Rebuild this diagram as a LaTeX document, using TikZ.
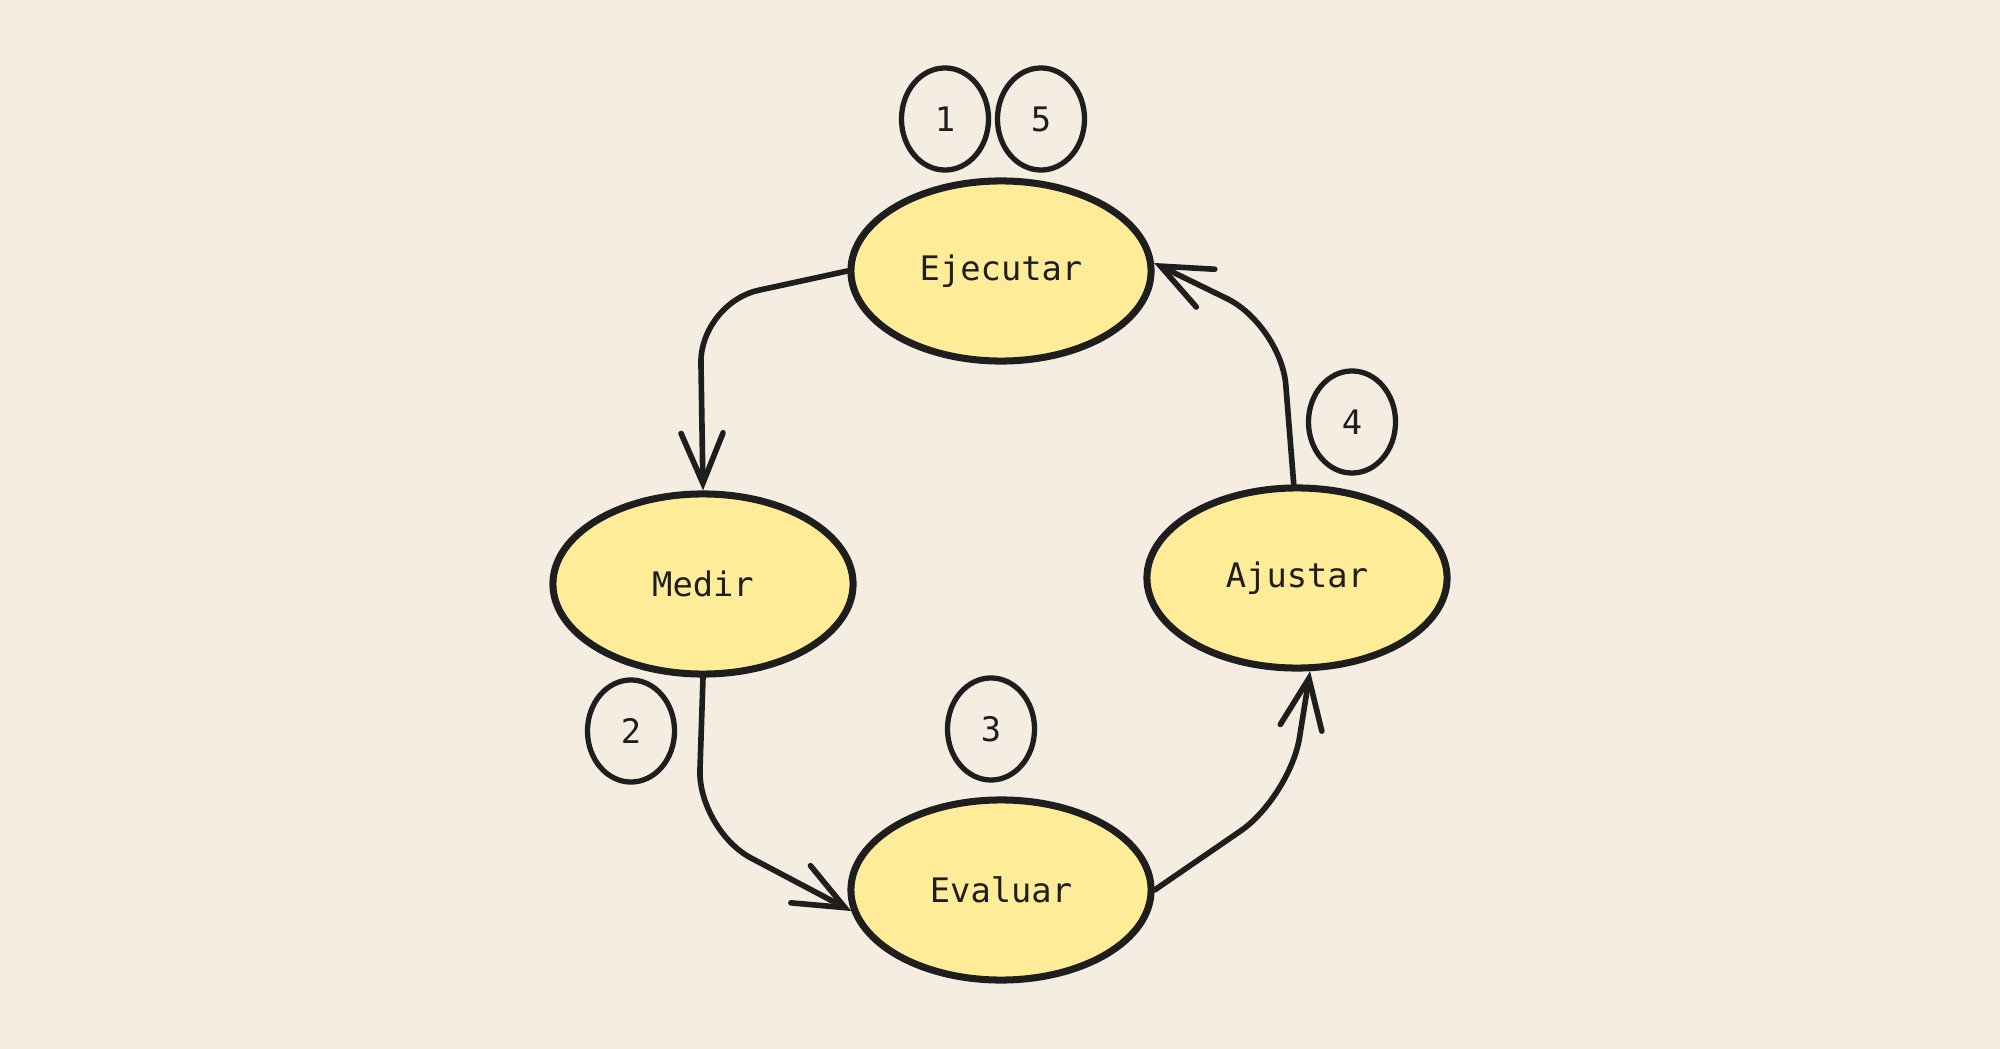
\documentclass[tikz,border=0pt]{standalone}
\usepackage{fontspec}
\setmonofont{DejaVu Sans Mono}
\usetikzlibrary{shapes.geometric,arrows.meta}

\definecolor{paper}{HTML}{F5ECE2}
\definecolor{ink}{HTML}{1E1E1E}
\definecolor{butter}{HTML}{FFEC99}

\tikzset{
	stage/.style={ellipse, draw=ink, fill=butter, line width=2pt, minimum width=3cm, minimum height=1.8cm, inner sep=0pt, text=ink, font=\ttfamily\fontsize{9.6}{11}\selectfont},
	tag/.style={ellipse, draw=ink, line width=1.5pt, minimum width=0.87cm, minimum height=1.02cm, inner sep=0pt, text=ink, font=\ttfamily\fontsize{9.6}{11}\selectfont},
	flow/.style={draw=ink, line width=1.6pt, rounded corners=0.6cm, line cap=round, -{Straight Barb[length=0.5cm, width=0.42cm, line cap=round]}}
}

\begin{document}
\begin{tikzpicture}[x=0.01cm, y=-0.01cm]
	\fill[paper] (0,0) rectangle (2000,1049);
	\useasboundingbox (0,0) rectangle (2000,1049);

	%stages of the cycle
	\foreach \name / \x / \y / \txt in {ejecutar/1001/271/Ejecutar, medir/703/584/Medir, evaluar/1001/890/Evaluar, ajustar/1297/578/Ajustar}{
	\node[stage] (\name) at (\x,\y) {\txt};}

	%numbered tags
	\foreach \n / \x / \y in {1/945/119, 5/1041/119, 2/631/731, 3/991/729, 4/1352/422}{
	\node[tag] (tag\n) at (\x,\y) {\n};}

	%corners of the connectors
	\coordinate (c1) at (700,303);
	\coordinate (c2) at (698,830);
	\coordinate (c3) at (1290,797);
	\coordinate (c4) at (1281,325);

	%connectors
	\draw[flow] (ejecutar.west) -- (c1) -- (medir.north);
	\draw[flow] (medir.south) -- (c2) -- (evaluar.188);
	\draw[flow] (evaluar.east) -- (c3) -- (ajustar.278);
	\draw[flow] (ajustar.92) -- (c4) -- (ejecutar.3);

\end{tikzpicture}
\end{document}
